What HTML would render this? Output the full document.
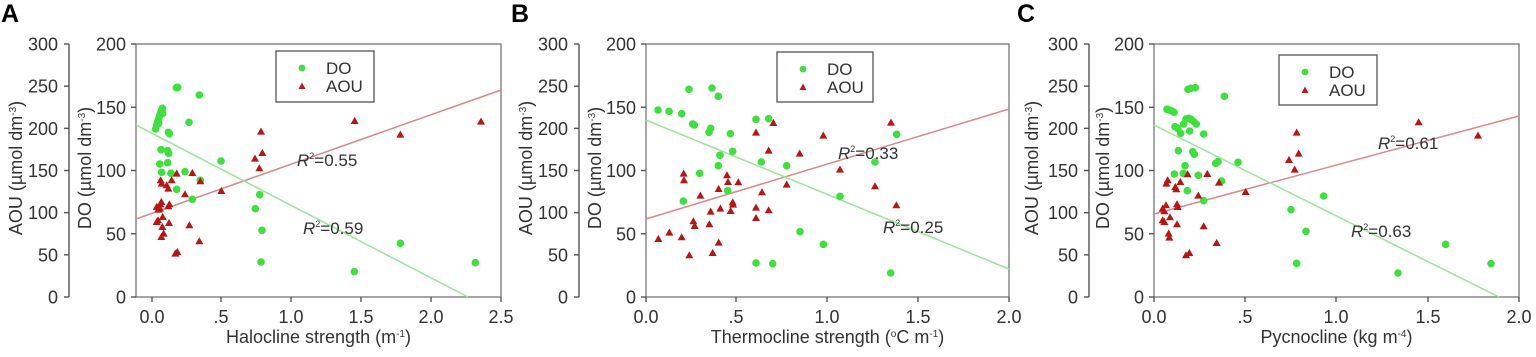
<!DOCTYPE html>
<html><head><meta charset="utf-8"><style>
body{margin:0;background:#fff;}
svg{display:block;font-family:"Liberation Sans",Arial,sans-serif;}
</style></head><body>
<svg id="s" width="1536" height="357" viewBox="0 0 1536 357" xmlns="http://www.w3.org/2000/svg"></svg>
<script>
const S=document.getElementById('s');const NS='http://www.w3.org/2000/svg';
function el(t,a,txt){const e=document.createElementNS(NS,t);for(const k in a)e.setAttribute(k,a[k]);if(txt!==undefined)e.innerHTML=txt;S.appendChild(e);return e;}
const panels=[
{off:0,L:'A',bx0:136,bx1:501,ax:69,xt:[[152,'0.0'],[221,'.5'],[291,'1.0'],[361,'1.5'],[431,'2.0'],[501,'2.5']],
 xtitle:'Halocline strength (m<tspan dy="-6" font-size="10">-1</tspan><tspan dy="6">)</tspan>',
 leg:[276,51,98,51],red:[136,219,501,90],grn:[136,125,468,297],r1:[297,160,'0.55'],r2:[303,228,'0.59'],
 g:[[467,387],[470,375],[473,365],[476,356],[479,347],[482,338],[485,330],[487,325],[481,344],[488,340],[476,370],[533,262],[529,263],[598,285],[567,367],[505,397],[508,401],[483,449],[503,452],[506,460],[479,492],[503,488],[485,517],[513,520],[555,515],[663,483],[530,568],[577,598],[766,626],[779,584],[786,691],[783,786],[1063,815],[1201,730],[1426,788],[601,541]],
 r:[[470,620],[475,628],[484,605],[480,625],[474,660],[470,665],[488,650],[487,680],[491,700],[484,710],[482,540],[485,550],[500,555],[505,565],[515,540],[508,612],[505,618],[481,612],[507,668],[530,520],[577,518],[601,543],[555,582],[568,675],[598,723],[526,760],[532,755],[664,572],[765,475],[778,504],[783,394],[787,458],[1064,362],[1201,403],[1443,364]]},
{off:510,L:'B',bx0:646,bx1:1009,ax:579,xt:[[646,'0.0'],[736,'.5'],[827,'1.0'],[918,'1.5'],[1009,'2.0']],
 xtitle:'Thermocline strength (<tspan dy="-6" font-size="10">o</tspan><tspan dy="6">C m</tspan><tspan dy="-6" font-size="10">-1</tspan><tspan dy="6">)</tspan>',
 leg:[777,52,96,50],red:[646,219,1009,109],grn:[646,120,1009,269],r1:[838,153,'0.33'],r2:[883,227,'0.25'],
 g:[[444,330],[477,334],[515,341],[537,268],[606,264],[625,289],[548,372],[553,375],[597,397],[602,385],[661,401],[738,358],[776,356],[630,466],[668,454],[625,497],[569,520],[653,572],[520,603],[754,486],[830,497],[1095,486],[1160,403],[990,589],[870,695],[940,733],[1142,819],[738,789],[788,791]],
 r:[[445,716],[478,697],[515,711],[538,765],[608,758],[626,727],[521,520],[522,540],[571,586],[550,663],[554,677],[602,634],[598,672],[631,625],[626,566],[651,525],[654,545],[685,546],[668,606],[669,613],[662,632],[738,397],[738,622],[738,653],[776,630],[776,451],[790,368],[756,576],[830,553],[869,460],[940,406],[990,508],[1095,558],[1143,367],[1159,615]]},
{off:1016,L:'C',bx0:1154,bx1:1519,ax:1089,xt:[[1154,'0.0'],[1245,'.5'],[1336,'1.0'],[1428,'1.5'],[1519,'2.0']],
 xtitle:'Pycnocline (kg m<tspan dy="-6" font-size="10">-4</tspan><tspan dy="6">)</tspan>',
 leg:[1279,55,98,50],red:[1154,214,1519,116],grn:[1154,125,1499,297],r1:[1378,143,'0.61'],r2:[1351,231,'0.63'],
 g:[[453,328],[460,330],[468,333],[474,337],[477,380],[485,385],[494,400],[503,372],[510,357],[517,355],[525,358],[533,365],[541,372],[521,393],[563,402],[487,452],[530,455],[535,463],[507,497],[475,522],[502,520],[547,526],[514,572],[563,602],[599,490],[606,485],[617,543],[625,289],[516,268],[524,265],[538,263],[666,487],[825,629],[870,694],[923,588],[842,790],[1146,819],[1289,733],[1425,791]],
 r:[[440,625],[445,633],[450,615],[445,665],[440,660],[462,651],[458,700],[460,712],[451,550],[455,540],[478,560],[481,567],[483,612],[485,620],[483,672],[493,545],[515,522],[574,521],[609,547],[547,586],[563,678],[602,728],[510,765],[520,758],[689,575],[819,479],[836,508],[842,397],[848,460],[1208,366],[1386,406]]}
];
const Y0=297,Y1=44;
for(const p of panels){
  const o=p.off;
  el('text',{x:o+1,y:22,'font-size':25,'font-weight':'bold'},p.L);
  el('line',{x1:p.ax,y1:Y1,x2:p.ax,y2:Y0,stroke:'#555','stroke-width':1.4});
  for(let i=0;i<=6;i++){const y=Y0-(Y0-Y1)*i/6;
    el('line',{x1:p.ax-5,y1:y,x2:p.ax,y2:y,stroke:'#555','stroke-width':1.4});
    el('text',{x:p.ax-11,y:y+6.5,'font-size':18,'text-anchor':'end',fill:'#333'},String(i*50));}
  el('rect',{x:p.bx0,y:Y1,width:p.bx1-p.bx0,height:Y0-Y1,fill:'none',stroke:'#777','stroke-width':1.3});
  for(let i=0;i<=4;i++){const y=Y0-(Y0-Y1)*i/4;
    el('line',{x1:p.bx0-5,y1:y,x2:p.bx0,y2:y,stroke:'#555','stroke-width':1.4});
    el('text',{x:p.bx0-10,y:y+6.5,'font-size':18,'text-anchor':'end',fill:'#333'},String(i*50));}
  for(const [x,t] of p.xt){
    el('line',{x1:x,y1:Y0,x2:x,y2:Y0+5,stroke:'#555','stroke-width':1.4});
    el('text',{x:x,y:323,'font-size':18,'text-anchor':'middle',fill:'#333'},t);}
  el('text',{x:(p.bx0+p.bx1)/2,y:343,'font-size':18,'text-anchor':'middle',fill:'#333'},p.xtitle);
  const cy=168;
  el('text',{x:0,y:0,'font-size':18,'text-anchor':'middle',fill:'#333',transform:`translate(${o+22},${cy}) rotate(-90)`},'AOU (µmol dm<tspan dy="-6" font-size="10">-3</tspan><tspan dy="6">)</tspan>');
  el('text',{x:0,y:0,'font-size':18,'text-anchor':'middle',fill:'#333',transform:`translate(${p.bx0-45},${cy}) rotate(-90)`},'DO (µmol dm<tspan dy="-6" font-size="10">-3</tspan><tspan dy="6">)</tspan>');
  el('line',{x1:p.red[0],y1:p.red[1],x2:p.red[2],y2:p.red[3],stroke:'#d88a8a','stroke-width':1.5});
  el('line',{x1:p.grn[0],y1:p.grn[1],x2:p.grn[2],y2:p.grn[3],stroke:'#99e699','stroke-width':1.5});
  for(const [a,b] of p.g) el('circle',{cx:o+a/3,cy:b/3,r:3.8,fill:'#3de03d'});
  for(const [a,b] of p.r){const x=o+a/3,y=b/3;el('polygon',{points:`${x-4},${y+3.3} ${x+4},${y+3.3} ${x},${y-3.8}`,fill:'#b81515'});}
  const [lx,ly,lw,lh]=p.leg;
  el('rect',{x:lx,y:ly,width:lw,height:lh,fill:'#fff',stroke:'#555','stroke-width':1.3});
  el('circle',{cx:lx+26,cy:ly+17,r:3.4,fill:'#3de03d'});
  el('text',{x:lx+50,y:ly+23,'font-size':17,fill:'#333'},'DO');
  const tx=lx+26,ty=ly+35;
  el('polygon',{points:`${tx-3.5},${ty+3} ${tx+3.5},${ty+3} ${tx},${ty-3.5}`,fill:'#c41818'});
  el('text',{x:lx+50,y:ly+41,'font-size':17,fill:'#333'},'AOU');
  for(const r of [p.r1,p.r2]){
    el('text',{x:r[0],y:r[1]+6,'font-size':17,fill:'#333'},'<tspan font-style="italic">R</tspan><tspan dy="-7" font-size="9">2</tspan><tspan dy="7">=' + r[2] + '</tspan>');
  }
}
</script>
</body></html>
